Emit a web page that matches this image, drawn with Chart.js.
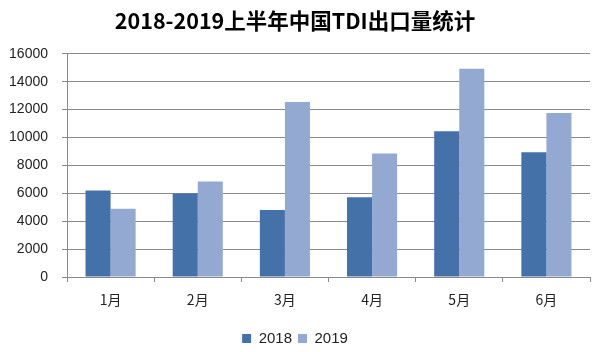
<!DOCTYPE html>
<html>
<head>
<meta charset="utf-8">
<script src="https://cdn.jsdelivr.net/npm/chart.js@4/dist/chart.umd.min.js"></script>
<style>
  html, body { margin: 0; padding: 0; background: #fff; }
  #wrap { width: 600px; height: 352px; position: relative; }
</style>
</head>
<body>
<div id="wrap"><canvas id="chart"></canvas></div>
<script>
// data
const months = ['1月', '2月', '3月', '4月', '5月', '6月'];
const exports2018 = [6200, 5980, 4800, 5710, 10450, 8950];
const exports2019 = [4900, 6850, 12550, 8850, 14930, 11750];
const seriesNames = ['2018', '2019'];

const FONT = '"Liberation Sans", "Noto Sans CJK SC", sans-serif';
const CJK = '"Noto Sans CJK SC", sans-serif';
const GRID = '#8a8a8a';

new Chart(document.getElementById('chart'), {
    type: 'bar',
    data: {
        labels: months,
        datasets: [{
            label: seriesNames[0],
            data: exports2018,
            backgroundColor: '#4571a9',
        }, {
            label: seriesNames[1],
            data: exports2019,
            backgroundColor: '#94a9d2',
        }]
    },
    options: {
        responsive: true,
        maintainAspectRatio: false,
        animation: false,
        layout: {
            padding: { left: 0, right: 10, top: 8, bottom: -4 }
        },
        datasets: {
            bar: {
                barPercentage: 1,
                categoryPercentage: 0.575,
            }
        },
        plugins: {
            title: {
                display: true,
                text: '2018-2019上半年中国TDI出口量统计',
                color: '#000',
                font: { family: CJK, size: 21.5, weight: 'bold', lineHeight: 1.2 },
                padding: { top: 0, bottom: 20 },
            },
            legend: {
                position: 'bottom',
                labels: {
                    color: '#222',
                    boxWidth: 9,
                    boxHeight: 9,
                    padding: 6,
                    font: { family: FONT, size: 15 },
                }
            },
            tooltip: { enabled: false },
        },
        scales: {
            x: {
                afterFit: (scale) => { scale.height = 48; },
                grid: {
                    offset: true,
                    drawOnChartArea: false,
                    drawTicks: true,
                    tickLength: 5,
                    color: GRID,
                },
                border: { color: GRID },
                ticks: {
                    color: '#222',
                    padding: 9,
                    font: { family: CJK, size: 14 },
                },
            },
            y: {
                min: 0,
                max: 16000,
                afterFit: (scale) => { scale.width = 67; },
                grid: {
                    color: GRID,
                    tickLength: 5,
                },
                border: { color: GRID },
                ticks: {
                    stepSize: 2000,
                    color: '#222',
                    padding: 14,
                    font: { family: FONT, size: 14 },
                    callback: (v) => String(v),
                },
            }
        }
    }
});
</script>
</body>
</html>
